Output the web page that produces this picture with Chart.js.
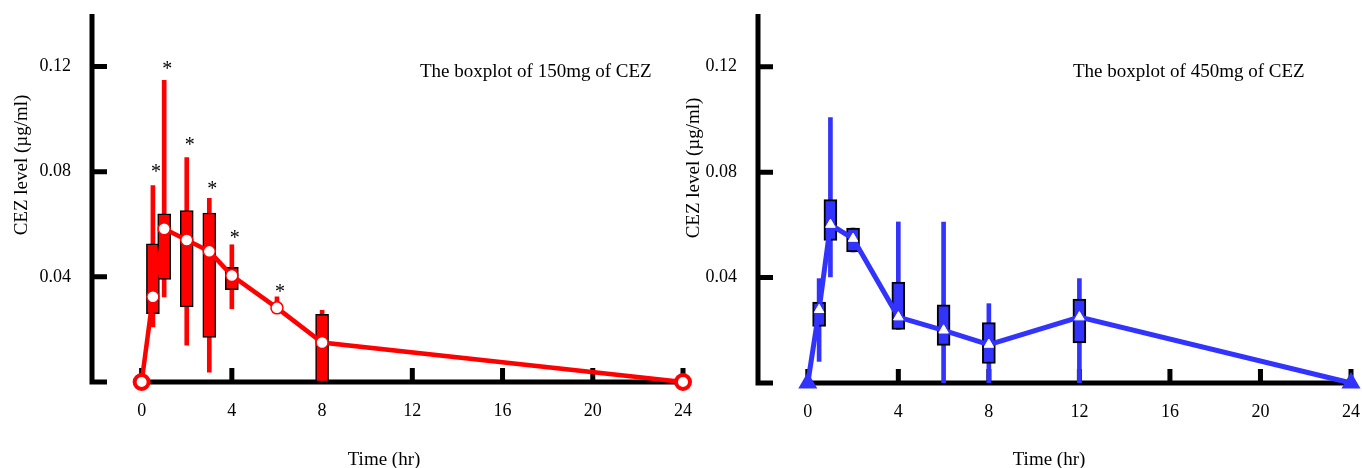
<!DOCTYPE html>
<html>
<head>
<meta charset="utf-8">
<script src="https://cdn.jsdelivr.net/npm/chart.js@4.4.0/dist/chart.umd.min.js"></script>
<style>
    html, body { margin: 0; padding: 0; background: #fff; }
    body { width: 1362px; height: 468px; position: relative; overflow: hidden; }
    canvas { position: absolute; top: 0; }
    #canvas150 { left: 0; }
    #canvas450 { left: 680px; }
</style>
</head>
<body>
<canvas id="canvas150" width="700" height="468"></canvas>
<canvas id="canvas450" width="682" height="468"></canvas>
<script>
const xTicks = [0, 4, 8, 12, 16, 20, 24];
const yTicks = [0, 0.04, 0.08, 0.12];
const xTitleText = "Time (hr)";
const yTitleText = "CEZ level (\u00b5g/ml)";

// 150mg
const title150 = "The boxplot of 150mg of CEZ";
const times150 = [0, 0.5, 1, 2, 3, 4, 6, 8, 24];
const median150 = [0, 0.0324, 0.0583, 0.054, 0.0497, 0.0405, 0.0282, 0.015, 0];
const boxTimes150 = [0.5, 1, 2, 3, 4, 8];
const boxLow150 = [0.026, 0.039, 0.0286, 0.017, 0.0351, 0];
const boxHigh150 = [0.0526, 0.064, 0.0652, 0.0643, 0.0436, 0.0257];
const whiskerTimes150 = [0.5, 1, 2, 3, 4, 6, 8];
const whiskerLow150 = [0.021, 0.0324, 0.014, 0.0037, 0.0279, 0.0282, 0];
const whiskerHigh150 = [0.0747, 0.1148, 0.0854, 0.0699, 0.0522, 0.0324, 0.0273];
const outlierTimes150 = [0.5, 1, 2, 3, 4, 6];
const outliers150 = [0.0814, 0.1206, 0.0918, 0.0749, 0.0562, 0.0356];

// 450mg
const title450 = "The boxplot of 450mg of CEZ";
const times450 = [0, 0.5, 1, 2, 4, 6, 8, 12, 24];
const median450 = [0, 0.0278, 0.0601, 0.0548, 0.025, 0.02, 0.0146, 0.025, 0];
const boxTimes450 = [0.5, 1, 2, 4, 6, 8, 12];
const boxLow450 = [0.0215, 0.0541, 0.0497, 0.0203, 0.0143, 0.0074, 0.0152];
const boxHigh450 = [0.0307, 0.0696, 0.0588, 0.0383, 0.0297, 0.0229, 0.0318];
const whiskerLow450 = [0.0082, 0.0402, 0.0497, 0.0203, 0, 0, 0];
const whiskerHigh450 = [0.0396, 0.1007, 0.0588, 0.0611, 0.0611, 0.0301, 0.0396];

const serif = "'Liberation Serif', 'Times New Roman', serif";
const red = "#ff0000";
const blue = "#3333ff";

function points(xs, ys) {
    return xs.map((x, i) => ({ x: x, y: ys[i] }));
}

function ranges(xs, lows, highs) {
    return xs.map((x, i) => ({ x: x, y: [lows[i], highs[i]] }));
}

function isEnd(ctx) {
    return ctx.dataIndex === 0 || ctx.dataIndex === ctx.dataset.data.length - 1;
}

// axes with inward ticks, stars and the texts
const decorPlugin = {
    id: "decor",
    beforeDatasetsDraw(chart) {
        const { ctx, chartArea } = chart;
        const xs = chart.scales.x;
        const ys = chart.scales.y;
        const y0 = ys.getPixelForValue(0);
        ctx.save();
        ctx.strokeStyle = "#000";
        ctx.lineWidth = 5;
        ctx.beginPath();
        ctx.moveTo(chartArea.left, chartArea.top);
        ctx.lineTo(chartArea.left, y0 + 2.5);
        yTicks.forEach(v => {
            const y = ys.getPixelForValue(v);
            ctx.moveTo(chartArea.left, y);
            ctx.lineTo(chartArea.left + 15, y);
        });
        ctx.moveTo(xs.getPixelForValue(0), y0);
        ctx.lineTo(xs.getPixelForValue(24), y0);
        xTicks.forEach(v => {
            const x = xs.getPixelForValue(v);
            ctx.moveTo(x, y0);
            ctx.lineTo(x, y0 - 14);
        });
        ctx.stroke();
        ctx.restore();
    },
    afterDatasetsDraw(chart, args, opts) {
        const { ctx } = chart;
        const xs = chart.scales.x;
        const ys = chart.scales.y;
        ctx.save();
        ctx.fillStyle = "#000";

        ctx.font = "20px " + serif;
        ctx.textAlign = "center";
        ctx.textBaseline = "alphabetic";
        (opts.outlierTimes || []).forEach((t, i) => {
            ctx.fillText("*", xs.getPixelForValue(t) + 3, ys.getPixelForValue(opts.outliers[i]) + 10);
        });

        ctx.font = "19px " + serif;
        ctx.textAlign = "left";
        ctx.fillText(opts.title, opts.titleX, opts.titleY);

        ctx.textAlign = "center";
        ctx.fillText(xTitleText, opts.xTitleX, opts.xTitleY);

        ctx.translate(opts.yTitleX, opts.yTitleY);
        ctx.rotate(-Math.PI / 2);
        ctx.fillText(yTitleText, 0, 0);
        ctx.restore();
    }
};

function makeChart(canvasId, cfg) {
    const tickFont = { family: serif, size: 18 };
    return new Chart(document.getElementById(canvasId), {
        type: "line",
        data: {
            datasets: [{
                type: "line",
                data: points(cfg.times, cfg.median),
                borderColor: cfg.color,
                borderWidth: cfg.lineWidth,
                tension: 0,
                fill: false,
                clip: false,
                pointStyle: cfg.pointStyle,
                pointRadius: cfg.pointRadius,
                pointBackgroundColor: cfg.pointFill,
                pointBorderColor: cfg.pointBorderColor,
                pointBorderWidth: cfg.pointBorderWidth,
                order: 1
            }, {
                type: "bar",
                data: ranges(cfg.boxTimes, cfg.boxLow, cfg.boxHigh),
                backgroundColor: cfg.color,
                borderColor: "#000",
                borderWidth: cfg.boxBorder,
                borderSkipped: false,
                barThickness: 13,
                grouped: false,
                order: 2
            }, {
                type: "bar",
                data: ranges(cfg.whiskerTimes, cfg.whiskerLow, cfg.whiskerHigh),
                backgroundColor: cfg.color,
                borderWidth: 0,
                barThickness: 4,
                grouped: false,
                order: 3
            }]
        },
        options: {
            responsive: false,
            animation: false,
            events: [],
            layout: { padding: cfg.padding },
            plugins: {
                legend: { display: false },
                tooltip: { enabled: false },
                decor: cfg.decor
            },
            scales: {
                x: {
                    type: "linear",
                    min: -2.2,
                    max: 24,
                    offset: false,
                    grid: { display: false, drawTicks: false },
                    border: { display: false },
                    afterBuildTicks: s => { s.ticks = xTicks.map(v => ({ value: v })); },
                    afterFit: s => {
                        s.height = cfg.xAxisHeight;
                        s.paddingLeft = 0; s.paddingRight = 0;
                    },
                    ticks: { color: "#000", font: tickFont, padding: 18, maxRotation: 0, autoSkip: false }
                },
                y: {
                    min: 0,
                    max: 0.14,
                    grid: { display: false, drawTicks: false },
                    border: { display: false },
                    afterBuildTicks: s => { s.ticks = yTicks.map(v => ({ value: v })); },
                    afterFit: s => {
                        s.width = cfg.yAxisWidth;
                        s.paddingTop = 0; s.paddingBottom = 0;
                    },
                    ticks: {
                        color: "#000",
                        font: tickFont,
                        padding: 21,
                        callback: v => v === 0 ? "" : v.toFixed(2)
                    }
                }
            }
        },
        plugins: [decorPlugin]
    });
}

makeChart("canvas150", {
    times: times150, median: median150,
    boxTimes: boxTimes150, boxLow: boxLow150, boxHigh: boxHigh150,
    whiskerTimes: whiskerTimes150, whiskerLow: whiskerLow150, whiskerHigh: whiskerHigh150,
    color: red,
    lineWidth: 4.5,
    boxBorder: 1.5,
    pointStyle: "circle",
    pointRadius: ctx => isEnd(ctx) ? 7 : 6,
    pointFill: "#fff",
    pointBorderColor: red,
    pointBorderWidth: ctx => isEnd(ctx) ? 4 : 1.5,
    padding: { left: 0, right: 17, top: 14, bottom: 0 },
    xAxisHeight: 86,
    yAxisWidth: 92,
    decor: {
        outlierTimes: outlierTimes150, outliers: outliers150,
        title: title150, titleX: 420, titleY: 77,
        xTitleX: 384, xTitleY: 465,
        yTitleX: 27, yTitleY: 165
    }
});

makeChart("canvas450", {
    times: times450, median: median450,
    boxTimes: boxTimes450, boxLow: boxLow450, boxHigh: boxHigh450,
    whiskerTimes: boxTimes450, whiskerLow: whiskerLow450, whiskerHigh: whiskerHigh450,
    color: blue,
    lineWidth: 5,
    boxBorder: 2,
    pointStyle: "triangle",
    pointRadius: ctx => isEnd(ctx) ? 9 : 5.5,
    pointFill: ctx => isEnd(ctx) ? blue : "#fff",
    pointBorderColor: ctx => isEnd(ctx) ? blue : "#fff",
    pointBorderWidth: ctx => isEnd(ctx) ? 2 : 1,
    padding: { left: 0, right: 10, top: 14, bottom: 0 },
    xAxisHeight: 85,
    yAxisWidth: 78,
    decor: {
        title: title450, titleX: 393, titleY: 77,
        xTitleX: 369, xTitleY: 465,
        yTitleX: 19, yTitleY: 168
    }
});
</script>
</body>
</html>
